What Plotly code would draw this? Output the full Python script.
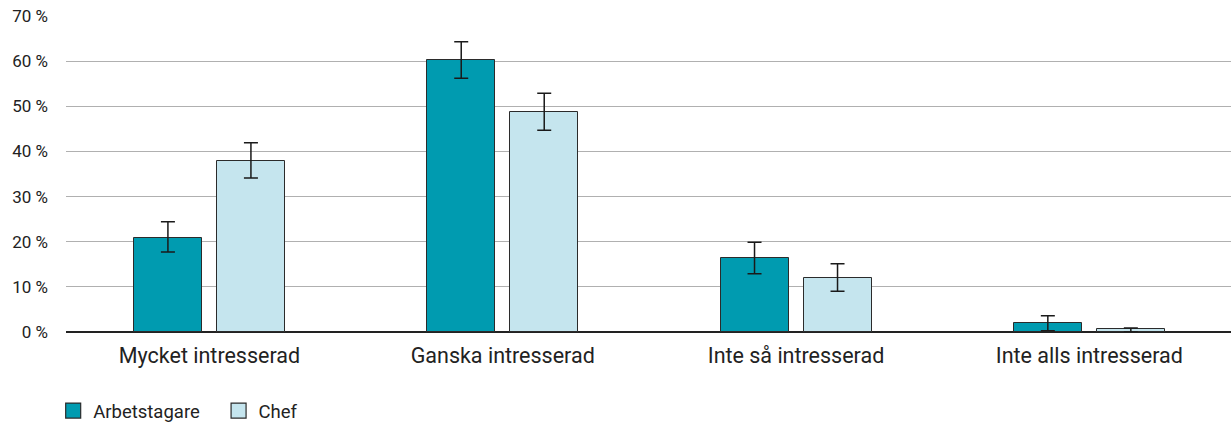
import plotly.graph_objects as go

categories = ["Mycket intresserad", "Ganska intresserad", "Inte så intresserad", "Inte alls intresserad"]
arbetstagare = [20.8, 60.3, 16.3, 2.1]
arbetstagare_hi = [24.4, 64.3, 19.9, 3.6]
arbetstagare_lo = [17.7, 56.2, 12.9, 0.3]
chef = [37.9, 48.7, 12.0, 0.6]
chef_hi = [41.9, 52.9, 15.1, 0.9]
chef_lo = [34.1, 44.7, 9.0, 0.0]
y_ticks = [0, 10, 20, 30, 40, 50, 60, 70]

xs = list(range(len(categories)))
bw = 0.232
off = 0.1415
col_arb = "#009BB0"
col_chef = "#C5E5EE"
edge = "#2b2b2b"

def err(vals, hi, lo):
    return dict(type="data", symmetric=False,
                array=[h - v for h, v in zip(hi, vals)],
                arrayminus=[v - l for l, v in zip(lo, vals)],
                color="#1a1a1a", thickness=1.5, width=7)

fig = go.Figure()
fig.add_trace(go.Bar(
    name="Arbetstagare", x=xs, y=arbetstagare, width=bw, offset=-off - bw / 2,
    marker=dict(color=col_arb, line=dict(color=edge, width=1)),
    error_y=err(arbetstagare, arbetstagare_hi, arbetstagare_lo), showlegend=False,
))
fig.add_trace(go.Bar(
    name="Chef", x=xs, y=chef, width=bw, offset=off - bw / 2,
    marker=dict(color=col_chef, line=dict(color=edge, width=1)),
    error_y=err(chef, chef_hi, chef_lo), showlegend=False,
))
# legend proxies with larger square swatches
for name, c in [("Arbetstagare\u00a0\u00a0\u00a0", col_arb), ("Chef", col_chef)]:
    fig.add_trace(go.Scatter(
        name=name, x=[None], y=[None], mode="markers",
        marker=dict(symbol="square", size=15, color=c, line=dict(color=edge, width=1.2)),
    ))

fig.update_layout(
    width=1231, height=443,
    margin=dict(l=66, r=0, t=16, b=111, autoexpand=False),
    paper_bgcolor="white", plot_bgcolor="white",
    font=dict(family="Roboto", color="#222222", size=18),
    showlegend=True,
    legend=dict(orientation="h", x=-0.011, xanchor="left", y=-0.19, yanchor="top",
                font=dict(size=18.5), itemwidth=30, traceorder="normal",
                itemsizing="trace"),
    bargap=0,
)
fig.update_xaxes(
    tickmode="array", tickvals=xs, ticktext=categories,
    range=[-0.489, 3.483], showgrid=False, ticks="",
    tickfont=dict(size=21.5), showline=False, zeroline=False, automargin=False,
    ticklabelstandoff=8,
)
fig.update_yaxes(
    range=[0, 70], tickmode="array", tickvals=y_ticks,
    ticktext=[f"{v} %" for v in y_ticks],
    showgrid=True, gridcolor="#b0b0b0", gridwidth=1,
    zeroline=True, zerolinecolor="#222222", zerolinewidth=1.5,
    tickfont=dict(size=17), ticklabelstandoff=17, ticks="", automargin=False,
)
fig.write_html("out.html", config={"displayModeBar": False},
               post_script="document.body.style.margin='0';document.body.style.overflow='hidden';")
